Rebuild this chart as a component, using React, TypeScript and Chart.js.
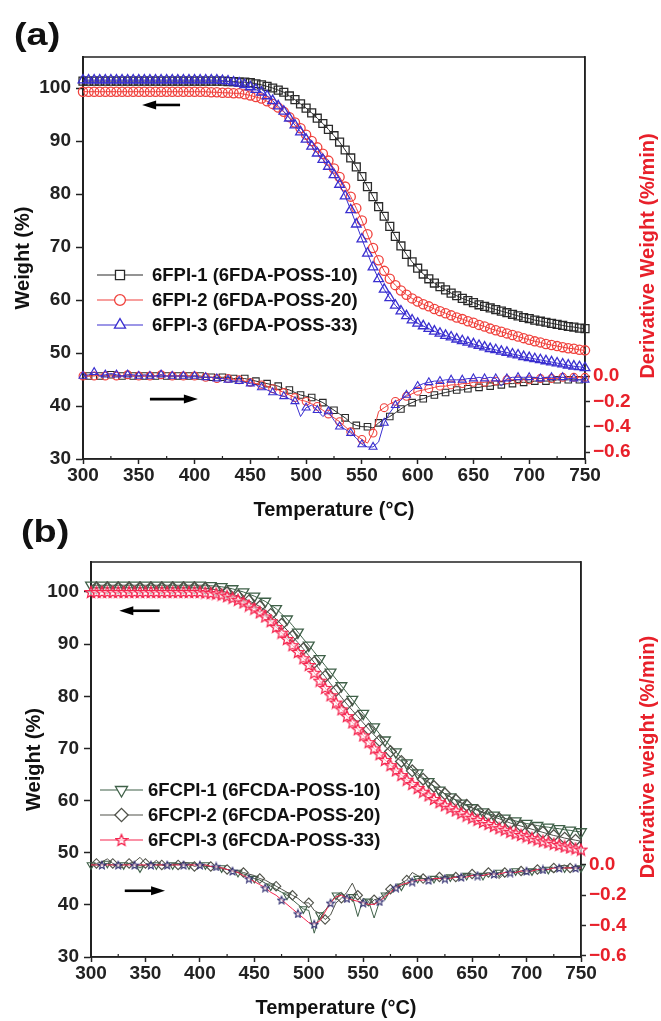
import React, { useEffect, useRef } from 'react';
import { Chart, registerables } from 'chart.js';
import { drawPoint } from 'chart.js/helpers';

Chart.register(...registerables);

// ---------------- data ----------------
const TEMPS = [
  300, 305, 310, 315, 320, 325, 330, 335, 340, 345,
  350, 355, 360, 365, 370, 375, 380, 385, 390, 395,
  400, 405, 410, 415, 420, 425, 430, 435, 440, 445,
  450, 455, 460, 465, 470, 475, 480, 485, 490, 495,
  500, 505, 510, 515, 520, 525, 530, 535, 540, 545,
  550, 555, 560, 565, 570, 575, 580, 585, 590, 595,
  600, 605, 610, 615, 620, 625, 630, 635, 640, 645,
  650, 655, 660, 665, 670, 675, 680, 685, 690, 695,
  700, 705, 710, 715, 720, 725, 730, 735, 740, 745,
  750,
];
const X_TICKS = [300, 350, 400, 450, 500, 550, 600, 650, 700, 750];
const X_MINOR = [325, 375, 425, 475, 525, 575, 625, 675, 725];
const W_TICKS = [30, 40, 50, 60, 70, 80, 90, 100];
const D_TICKS = [0, -0.2, -0.4, -0.6];

const A_LABELS = ['6FPI-1 (6FDA-POSS-10)', '6FPI-2 (6FDA-POSS-20)', '6FPI-3 (6FDA-POSS-33)'];
const B_LABELS = ['6FCPI-1 (6FCDA-POSS-10)', '6FCPI-2 (6FCDA-POSS-20)', '6FCPI-3 (6FCDA-POSS-33)'];

// Panel (a) weight (%)
const A1_W = [
  101.3, 101.3, 101.3, 101.3, 101.3, 101.3, 101.3, 101.3, 101.3, 101.3,
  101.3, 101.3, 101.3, 101.3, 101.3, 101.3, 101.3, 101.3, 101.3, 101.3,
  101.3, 101.3, 101.3, 101.3, 101.3, 101.3, 101.2, 101.2, 101.1, 101.1,
  101.0, 100.8, 100.6, 100.3, 100.0, 99.6, 99.2, 98.5, 97.8, 97.0,
  96.2, 95.3, 94.3, 93.3, 92.2, 91.0, 89.8, 88.3, 86.8, 85.1,
  83.3, 81.4, 79.5, 77.6, 75.8, 73.9, 72.0, 70.2, 68.6, 67.2,
  66.0, 64.9, 64.0, 63.2, 62.5, 61.9, 61.3, 60.8, 60.3, 59.9,
  59.5, 59.1, 58.8, 58.5, 58.2, 57.9, 57.6, 57.3, 57.0, 56.7,
  56.5, 56.2, 56.0, 55.8, 55.6, 55.4, 55.2, 55.0, 54.9, 54.7,
  54.6,
];
const A2_W = [
  99.3, 99.3, 99.3, 99.3, 99.3, 99.3, 99.3, 99.3, 99.3, 99.3,
  99.3, 99.3, 99.3, 99.3, 99.3, 99.3, 99.3, 99.3, 99.3, 99.3,
  99.3, 99.3, 99.3, 99.2, 99.2, 99.1, 99.1, 99.0, 99.0, 98.8,
  98.6, 98.3, 98.0, 97.5, 97.0, 96.3, 95.5, 94.5, 93.5, 92.4,
  91.2, 90.0, 88.8, 87.6, 86.3, 84.8, 83.2, 81.4, 79.5, 77.3,
  75.0, 72.4, 69.8, 67.5, 65.5, 64.0, 62.8, 61.8, 61.0, 60.3,
  59.7, 59.2, 58.8, 58.3, 57.9, 57.5, 57.1, 56.7, 56.4, 56.0,
  55.7, 55.3, 55.0, 54.6, 54.3, 54.0, 53.7, 53.4, 53.1, 52.8,
  52.5, 52.2, 52.0, 51.7, 51.5, 51.3, 51.1, 50.9, 50.8, 50.6,
  50.5,
];
const A3_W = [
  101.5, 101.5, 101.5, 101.5, 101.5, 101.5, 101.5, 101.5, 101.5, 101.5,
  101.5, 101.5, 101.5, 101.5, 101.5, 101.5, 101.5, 101.5, 101.5, 101.5,
  101.5, 101.5, 101.5, 101.5, 101.5, 101.4, 101.3, 101.1, 100.9, 100.6,
  100.2, 99.7, 99.2, 98.5, 97.6, 96.6, 95.6, 94.3, 93.0, 91.7,
  90.3, 89.0, 87.7, 86.5, 85.2, 83.6, 81.8, 79.6, 77.0, 74.3,
  71.5, 68.8, 66.2, 64.0, 62.0, 60.4, 59.0, 57.9, 57.0, 56.2,
  55.6, 55.1, 54.6, 54.1, 53.7, 53.3, 53.0, 52.6, 52.3, 52.0,
  51.7, 51.4, 51.1, 50.8, 50.6, 50.3, 50.1, 49.8, 49.6, 49.3,
  49.1, 48.9, 48.7, 48.5, 48.3, 48.1, 47.9, 47.7, 47.5, 47.4,
  47.2,
];
// Panel (a) derivative weight (%/min)
const A1_D = [
  0.00, 0.00, 0.01, 0.00, 0.00, 0.01, 0.00, 0.00, 0.00, 0.00,
  0.00, 0.00, 0.00, 0.00, 0.00, 0.00, 0.00, 0.00, 0.00, 0.00,
  0.00, 0.00, -0.01, -0.01, -0.01, -0.01, -0.01, -0.02, -0.02, -0.02,
  -0.03, -0.04, -0.05, -0.06, -0.07, -0.08, -0.10, -0.11, -0.13, -0.15,
  -0.16, -0.17, -0.19, -0.21, -0.24, -0.27, -0.30, -0.33, -0.37, -0.39,
  -0.40, -0.40, -0.41, -0.37, -0.34, -0.32, -0.29, -0.26, -0.23, -0.21,
  -0.19, -0.18, -0.16, -0.15, -0.14, -0.13, -0.12, -0.11, -0.11, -0.10,
  -0.09, -0.09, -0.08, -0.08, -0.07, -0.07, -0.06, -0.06, -0.05, -0.05,
  -0.05, -0.04, -0.04, -0.04, -0.04, -0.03, -0.03, -0.03, -0.03, -0.03,
  -0.03,
];
const A2_D = [
  0.00, 0.00, 0.00, 0.01, 0.00, 0.00, 0.00, 0.00, 0.01, 0.00,
  0.00, 0.00, 0.00, 0.00, 0.01, 0.00, 0.00, 0.00, 0.00, 0.00,
  0.00, -0.01, -0.01, -0.01, -0.02, -0.02, -0.02, -0.03, -0.03, -0.04,
  -0.05, -0.06, -0.07, -0.08, -0.10, -0.11, -0.13, -0.15, -0.17, -0.19,
  -0.20, -0.22, -0.24, -0.27, -0.30, -0.33, -0.36, -0.40, -0.44, -0.47,
  -0.50, -0.53, -0.45, -0.28, -0.25, -0.22, -0.20, -0.18, -0.16, -0.14,
  -0.12, -0.11, -0.10, -0.09, -0.08, -0.08, -0.07, -0.07, -0.06, -0.06,
  -0.05, -0.05, -0.05, -0.04, -0.04, -0.04, -0.03, -0.03, -0.03, -0.03,
  -0.03, -0.02, -0.02, -0.02, -0.02, -0.02, -0.01, -0.01, -0.01, -0.01,
  -0.01,
];
const A3_D = [
  0.00, 0.01, 0.03, 0.00, 0.01, 0.02, 0.01, 0.00, 0.01, 0.01,
  0.00, 0.01, 0.00, 0.00, 0.01, 0.00, 0.00, 0.00, 0.00, -0.01,
  0.00, -0.01, -0.01, -0.01, -0.02, -0.02, -0.03, -0.04, -0.04, -0.05,
  -0.06, -0.07, -0.09, -0.11, -0.13, -0.15, -0.16, -0.18, -0.20, -0.32,
  -0.25, -0.23, -0.27, -0.32, -0.28, -0.35, -0.40, -0.42, -0.45, -0.49,
  -0.54, -0.56, -0.56, -0.52, -0.37, -0.29, -0.23, -0.19, -0.15, -0.11,
  -0.08, -0.06, -0.05, -0.04, -0.04, -0.03, -0.03, -0.03, -0.03, -0.02,
  -0.02, -0.01, -0.02, -0.01, -0.02, -0.08, -0.02, -0.01, -0.01, -0.01,
  -0.01, -0.01, -0.02, -0.01, -0.01, -0.01, -0.01, -0.02, -0.02, -0.03,
  -0.03,
];

// Panel (b) weight (%)
const B1_W = [
  101.3, 101.3, 101.3, 101.3, 101.3, 101.3, 101.3, 101.3, 101.3, 101.3,
  101.3, 101.3, 101.3, 101.3, 101.3, 101.3, 101.3, 101.3, 101.3, 101.3,
  101.3, 101.3, 101.2, 101.1, 101.0, 100.8, 100.6, 100.3, 100.0, 99.6,
  99.2, 98.7, 98.2, 97.5, 96.8, 95.8, 94.8, 93.6, 92.3, 91.0,
  89.8, 88.5, 87.2, 85.9, 84.6, 83.3, 82.0, 80.7, 79.4, 78.0,
  76.7, 75.4, 74.1, 72.8, 71.6, 70.4, 69.3, 68.2, 67.2, 66.2,
  65.3, 64.4, 63.6, 62.8, 62.0, 61.3, 60.7, 60.1, 59.5, 59.0,
  58.6, 58.2, 57.8, 57.5, 57.2, 56.9, 56.6, 56.3, 56.1, 55.8,
  55.6, 55.4, 55.2, 55.0, 54.9, 54.7, 54.6, 54.4, 54.3, 54.1,
  54.0,
];
const B2_W = [
  100.8, 100.8, 100.8, 100.8, 100.8, 100.8, 100.8, 100.8, 100.8, 100.8,
  100.8, 100.8, 100.8, 100.8, 100.8, 100.8, 100.8, 100.8, 100.8, 100.8,
  100.8, 100.7, 100.6, 100.4, 100.2, 99.9, 99.6, 99.2, 98.8, 98.3,
  97.8, 97.2, 96.5, 95.7, 94.8, 93.8, 92.7, 91.5, 90.3, 89.1,
  87.8, 86.5, 85.1, 83.8, 82.4, 81.1, 79.8, 78.5, 77.3, 76.1,
  74.9, 73.7, 72.6, 71.5, 70.4, 69.4, 68.4, 67.5, 66.6, 65.7,
  64.9, 64.1, 63.4, 62.7, 62.0, 61.3, 60.7, 60.1, 59.6, 59.1,
  58.6, 58.1, 57.7, 57.3, 56.9, 56.5, 56.1, 55.7, 55.4, 55.1,
  54.8, 54.5, 54.2, 53.9, 53.6, 53.3, 53.1, 52.8, 52.6, 52.4,
  52.2,
];
const B3_W = [
  100.0, 100.0, 100.0, 100.0, 100.0, 100.0, 100.0, 100.0, 100.0, 100.0,
  100.0, 100.0, 100.0, 100.0, 100.0, 100.0, 100.0, 100.0, 100.0, 100.0,
  100.0, 99.9, 99.8, 99.7, 99.5, 99.2, 98.9, 98.5, 98.0, 97.4,
  96.8, 96.1, 95.3, 94.4, 93.3, 92.2, 91.0, 89.8, 88.5, 87.3,
  86.0, 84.5, 83.0, 81.6, 80.2, 78.8, 77.5, 76.2, 75.0, 73.7,
  72.5, 71.2, 70.0, 68.9, 67.8, 66.8, 65.8, 64.9, 64.0, 63.2,
  62.4, 61.7, 61.0, 60.3, 59.7, 59.1, 58.6, 58.1, 57.6, 57.1,
  56.7, 56.3, 55.9, 55.5, 55.1, 54.7, 54.4, 54.0, 53.7, 53.4,
  53.1, 52.8, 52.5, 52.2, 52.0, 51.7, 51.5, 51.2, 51.0, 50.8,
  50.6,
];
// Panel (b) derivative weight (%/min)
const B1_D = [
  0.00, 0.00, 0.00, 0.01, 0.00, -0.01, 0.00, 0.01, 0.00, -0.02,
  0.00, 0.01, 0.00, 0.00, -0.01, 0.00, 0.01, 0.00, 0.00, 0.01,
  -0.01, 0.00, -0.01, -0.02, -0.02, -0.03, -0.04, -0.05, -0.06, -0.07,
  -0.09, -0.10, -0.12, -0.14, -0.16, -0.18, -0.20, -0.23, -0.26, -0.29,
  -0.30, -0.45, -0.33, -0.30, -0.25, -0.20, -0.18, -0.22, -0.21, -0.34,
  -0.22, -0.24, -0.35, -0.24, -0.20, -0.17, -0.15, -0.14, -0.12, -0.10,
  -0.09, -0.09, -0.10, -0.09, -0.09, -0.08, -0.08, -0.08, -0.09, -0.07,
  -0.07, -0.06, -0.07, -0.06, -0.06, -0.05, -0.08, -0.05, -0.04, -0.05,
  -0.06, -0.04, -0.04, -0.03, -0.03, -0.05, -0.02, -0.02, -0.02, -0.02,
  -0.02,
];
const B2_D = [
  0.00, 0.01, 0.02, 0.04, 0.01, -0.01, -0.02, 0.01, 0.02, 0.05,
  0.01, 0.00, 0.03, 0.00, -0.01, 0.01, 0.00, 0.02, 0.01, -0.01,
  0.00, -0.01, -0.01, -0.02, -0.02, -0.03, -0.04, -0.04, -0.05, -0.06,
  -0.07, -0.09, -0.10, -0.12, -0.14, -0.16, -0.18, -0.20, -0.22, -0.25,
  -0.25, -0.30, -0.32, -0.36, -0.33, -0.25, -0.22, -0.18, -0.12, -0.20,
  -0.25, -0.27, -0.23, -0.22, -0.19, -0.16, -0.14, -0.12, -0.10, -0.05,
  -0.07, -0.09, -0.09, -0.10, -0.08, -0.08, -0.07, -0.08, -0.07, -0.06,
  -0.06, -0.07, -0.06, -0.05, -0.06, -0.09, -0.05, -0.04, -0.05, -0.04,
  -0.04, -0.03, -0.03, -0.04, -0.03, -0.02, -0.01, 0.00, -0.02, -0.01,
  -0.01,
];
const B3_D = [
  0.00, 0.00, 0.00, 0.00, 0.00, 0.00, 0.00, 0.00, 0.00, 0.00,
  0.00, 0.00, 0.00, 0.00, 0.00, 0.00, 0.00, 0.00, 0.00, 0.00,
  0.00, 0.00, -0.01, -0.01, -0.02, -0.03, -0.04, -0.05, -0.07, -0.09,
  -0.11, -0.13, -0.15, -0.18, -0.20, -0.23, -0.26, -0.29, -0.32, -0.35,
  -0.38, -0.39, -0.37, -0.31, -0.25, -0.21, -0.20, -0.22, -0.23, -0.24,
  -0.25, -0.26, -0.26, -0.24, -0.21, -0.18, -0.15, -0.13, -0.12, -0.11,
  -0.10, -0.10, -0.10, -0.09, -0.09, -0.09, -0.09, -0.08, -0.08, -0.08,
  -0.07, -0.07, -0.07, -0.06, -0.06, -0.06, -0.05, -0.05, -0.05, -0.04,
  -0.04, -0.04, -0.03, -0.03, -0.03, -0.02, -0.02, -0.02, -0.02, -0.02,
  -0.02,
];

// ---------------- styling ----------------
const FONT = '"Liberation Sans", Arial, Helvetica, sans-serif';
const AXIS = '#222222';
const RED_TXT = '#e8202a';

function starImage(size: number, color: string, lw: number) {
  const c = document.createElement('canvas');
  c.width = size;
  c.height = size;
  const g = c.getContext('2d')!;
  const cx = size / 2;
  const cy = size / 2 + 0.5;
  const R = size / 2 - 1;
  const r = R * 0.45;
  g.beginPath();
  for (let k = 0; k < 10; k++) {
    const ang = -Math.PI / 2 + (k * Math.PI) / 5;
    const rr = k % 2 ? r : R;
    g.lineTo(cx + rr * Math.cos(ang), cy + rr * Math.sin(ang));
  }
  g.closePath();
  g.fillStyle = 'rgba(255,255,255,0.6)';
  g.fill();
  g.strokeStyle = color;
  g.lineWidth = lw;
  g.stroke();
  return c;
}

type SeriesDef = {
  label: string;
  w: number[];
  d: number[];
  line: string;
  mark: string;
  dLine: string;
  dMark: string;
  style: any;
  dStyle: any;
  rot: number;
  r: number;
  dr: number;
  wStep: number;
  wOff: number;
  dStep: number;
  dOff: number;
};

type PanelDef = {
  canvasH: number;
  padTop: number;
  yW: number;
  y2W: number;
  xH: number;
  yMax: number;
  dMin: number;
  dMax: number;
  yTitlePad: number;
  xTitlePad: number;
  tag: string;
  tagX: number;
  tagY: number;
  rightTitle: string;
  rtX: number;
  rtY: number;
  legendRows: number[];
  legendLine: number[];
  legendTextX: number;
  arrows: { from: number; to: number; w: number }[];
  series: SeriesDef[];
};

function drawArrow(ctx: CanvasRenderingContext2D, xTail: number, xHead: number, y: number) {
  const dir = Math.sign(xHead - xTail);
  const headLen = 14;
  const headHalf = 4.5;
  ctx.beginPath();
  ctx.moveTo(xTail, y);
  ctx.lineTo(xHead - dir * headLen + dir, y);
  ctx.lineWidth = 2.6;
  ctx.stroke();
  ctx.beginPath();
  ctx.moveTo(xHead, y);
  ctx.lineTo(xHead - dir * headLen, y - headHalf);
  ctx.lineTo(xHead - dir * headLen, y + headHalf);
  ctx.closePath();
  ctx.fill();
}

function makeDeco(p: PanelDef) {
  return {
    id: 'deco',
    beforeDatasetsDraw(chart: any) {
      const { ctx, chartArea: a } = chart;
      ctx.save();
      ctx.strokeStyle = AXIS;
      ctx.lineWidth = 1.5;
      ctx.strokeRect(a.left, a.top, a.right - a.left, a.bottom - a.top);
      // minor x ticks
      const sx = chart.scales.x;
      ctx.lineWidth = 1.2;
      X_MINOR.forEach((v) => {
        const px = sx.getPixelForValue(v);
        ctx.beginPath();
        ctx.moveTo(px, a.bottom);
        ctx.lineTo(px, a.bottom - 3);
        ctx.stroke();
      });
      ctx.restore();
    },
    afterDraw(chart: any) {
      const { ctx, scales } = chart;
      ctx.save();
      // panel tag (wide bold lettering)
      ctx.save();
      ctx.translate(p.tagX, p.tagY);
      ctx.scale(1.22, 1);
      ctx.font = `bold 31px ${FONT}`;
      ctx.fillStyle = '#111';
      ctx.textBaseline = 'middle';
      ctx.textAlign = 'left';
      ctx.fillText(p.tag, 0, 0);
      ctx.restore();
      // arrows
      ctx.strokeStyle = '#000';
      ctx.fillStyle = '#000';
      p.arrows.forEach((ar) => {
        const x0 = scales.x.getPixelForValue(ar.from);
        const x1 = scales.x.getPixelForValue(ar.to);
        const y = scales.y.getPixelForValue(ar.w);
        drawArrow(ctx, x0, x1, y);
      });
      // legend
      p.series.forEach((s, i) => {
        const y = p.legendRows[i];
        const [l0, l1] = p.legendLine;
        ctx.strokeStyle = s.line;
        ctx.lineWidth = 1.2;
        ctx.beginPath();
        ctx.moveTo(l0, y);
        ctx.lineTo(l1, y);
        ctx.stroke();
        ctx.fillStyle = '#ffffff';
        ctx.strokeStyle = s.mark;
        ctx.lineWidth = 1.3;
        drawPoint(ctx, { pointStyle: s.style, rotation: s.rot, radius: s.r + 0.8, borderWidth: 1.3 } as any, (l0 + l1) / 2, y);
        ctx.fillStyle = '#111';
        ctx.font = `bold 18.5px ${FONT}`;
        ctx.textBaseline = 'middle';
        ctx.textAlign = 'left';
        ctx.fillText(s.label, p.legendTextX, y + 1);
      });
      // right axis title
      ctx.translate(p.rtX, p.rtY);
      ctx.rotate(-Math.PI / 2);
      ctx.fillStyle = RED_TXT;
      ctx.font = `bold 20px ${FONT}`;
      ctx.textAlign = 'center';
      ctx.textBaseline = 'middle';
      ctx.fillText(p.rightTitle, 0, 0);
      ctx.restore();
    },
  };
}

function buildConfig(p: PanelDef): any {
  const datasets: any[] = [];
  [...p.series].reverse().forEach((s) => {
    datasets.push({
      label: s.label,
      yAxisID: 'y',
      data: TEMPS.map((t, i) => ({ x: t, y: s.w[i] })),
      borderColor: s.line,
      borderWidth: 1,
      pointStyle: s.style,
      rotation: s.rot,
      pointRadius: (c: any) => (c.dataIndex % s.wStep === s.wOff ? s.r : 0),
      pointBorderColor: s.mark,
      pointBackgroundColor: 'rgba(255,255,255,0)',
      pointBorderWidth: 1.3,
      tension: 0,
      clip: false,
    });
    datasets.push({
      label: s.label + ' DTG',
      yAxisID: 'y2',
      data: TEMPS.map((t, i) => ({ x: t, y: s.d[i] })),
      borderColor: s.dLine,
      borderWidth: 1,
      pointStyle: s.dStyle,
      rotation: s.rot,
      pointRadius: (c: any) => (c.dataIndex % s.dStep === s.dOff ? s.dr : 0),
      pointBorderColor: s.dMark,
      pointBackgroundColor: 'rgba(255,255,255,0)',
      pointBorderWidth: 1.1,
      tension: 0,
      clip: false,
    });
  });

  const tickFont = { family: FONT, size: 19, weight: 'bold' as const };
  const titleFont = { family: FONT, size: 20, weight: 'bold' as const };

  return {
    type: 'line',
    data: { datasets },
    plugins: [makeDeco(p)],
    options: {
      animation: false,
      responsive: false,
      events: [],
      layout: { padding: { top: p.padTop, left: 0, right: 0, bottom: 0 }, autoPadding: false },
      plugins: { legend: { display: false }, tooltip: { enabled: false } },
      scales: {
        x: {
          type: 'linear',
          min: 300,
          max: 750,
          afterBuildTicks: (sc: any) => {
            sc.ticks = X_TICKS.map((v) => ({ value: v }));
          },
          afterFit: (sc: any) => {
            sc.height = p.xH;
          },
          grid: { drawOnChartArea: false, tickLength: 5, color: AXIS, tickWidth: 1.5 },
          border: { color: AXIS, width: 1.5 },
          ticks: { font: tickFont, color: '#222', padding: 0, maxRotation: 0, autoSkip: false },
          title: {
            display: true,
            text: 'Temperature (°C)',
            font: titleFont,
            color: '#111',
            padding: { top: 0, bottom: p.xTitlePad },
          },
        },
        y: {
          position: 'left',
          min: 30,
          max: p.yMax,
          afterBuildTicks: (sc: any) => {
            sc.ticks = W_TICKS.map((v) => ({ value: v }));
          },
          afterFit: (sc: any) => {
            sc.width = p.yW;
          },
          grid: { drawOnChartArea: false, tickLength: 7, color: AXIS, tickWidth: 1.5 },
          border: { color: AXIS, width: 2 },
          ticks: { font: tickFont, color: '#222', padding: 5 },
          title: {
            display: true,
            text: 'Weight (%)',
            font: titleFont,
            color: '#111',
            padding: { top: p.yTitlePad, bottom: 0 },
          },
        },
        y2: {
          position: 'right',
          min: p.dMin,
          max: p.dMax,
          afterBuildTicks: (sc: any) => {
            sc.ticks = D_TICKS.map((v) => ({ value: v }));
          },
          afterFit: (sc: any) => {
            sc.width = p.y2W;
          },
          grid: { drawOnChartArea: false, tickLength: 5, color: AXIS, tickWidth: 1.5 },
          border: { color: AXIS, width: 1.5 },
          ticks: {
            font: tickFont,
            color: RED_TXT,
            padding: 3,
            callback: (v: any) => (Math.abs(v) < 1e-9 ? '0.0' : '\u2212' + Math.abs(v).toFixed(1)),
          },
        },
      },
    },
  };
}

// ---------------- panels ----------------
const STAR_BIG = starImage(14, '#f5254f', 1.3);
const STAR_SMALL = starImage(10, '#2d2a6e', 1.1);

const PANEL_A: PanelDef = {
  canvasH: 522,
  padTop: 57,
  yW: 83,
  y2W: 76,
  xH: 63,
  yMax: 105.85,
  dMin: -0.655,
  dMax: 2.518,
  yTitlePad: 11,
  xTitlePad: 0,
  tag: '(a)',
  tagX: 14,
  tagY: 36,
  rightTitle: 'Derivative Weight (%/min)',
  rtX: 648,
  rtY: 256,
  legendRows: [275, 300, 325],
  legendLine: [97, 143],
  legendTextX: 152,
  arrows: [
    { from: 387, to: 353, w: 96.8 },
    { from: 360, to: 403, w: 41.3 },
  ],
  series: [
    {
      label: A_LABELS[0], w: A1_W, d: A1_D, line: '#2a2a2a', mark: '#2a2a2a', dLine: '#2a2a2a', dMark: '#2a2a2a',
      style: 'rect', dStyle: 'rect', rot: 0, r: 5.6, dr: 4.6, wStep: 1, wOff: 0, dStep: 2, dOff: 1,
    },
    {
      label: A_LABELS[1], w: A2_W, d: A2_D, line: '#f0413c', mark: '#f0413c', dLine: '#f0413c', dMark: '#f0413c',
      style: 'circle', dStyle: 'circle', rot: 0, r: 4.6, dr: 3.9, wStep: 1, wOff: 0, dStep: 2, dOff: 0,
    },
    {
      label: A_LABELS[2], w: A3_W, d: A3_D, line: '#3a2fd0', mark: '#3a2fd0', dLine: '#3a2fd0', dMark: '#3a2fd0',
      style: 'triangle', dStyle: 'triangle', rot: 0, r: 5.6, dr: 4.6, wStep: 1, wOff: 0, dStep: 2, dOff: 0,
    },
  ],
};

const PANEL_B: PanelDef = {
  canvasH: 521,
  padTop: 62,
  yW: 91,
  y2W: 80,
  xH: 64,
  yMax: 105.75,
  dMin: -0.607,
  dMax: 1.997,
  yTitlePad: 22,
  xTitlePad: 1,
  tag: '(b)',
  tagX: 21,
  tagY: 33,
  rightTitle: 'Derivative weight (%/min)',
  rtX: 648,
  rtY: 257,
  legendRows: [290, 315, 340],
  legendLine: [100, 143],
  legendTextX: 148,
  arrows: [
    { from: 363, to: 326, w: 96.4 },
    { from: 331, to: 368, w: 42.7 },
  ],
  series: [
    {
      label: B_LABELS[0], w: B1_W, d: B1_D, line: '#3f6048', mark: '#3f6048', dLine: '#3f6048', dMark: '#3f6048',
      style: 'triangle', dStyle: 'triangle', rot: 180, r: 6.2, dr: 4.4, wStep: 2, wOff: 0, dStep: 3, dOff: 0,
    },
    {
      label: B_LABELS[1], w: B2_W, d: B2_D, line: '#50524a', mark: '#50524a', dLine: '#50524a', dMark: '#50524a',
      style: 'rectRot', dStyle: 'rectRot', rot: 0, r: 5.8, dr: 4.7, wStep: 2, wOff: 1, dStep: 3, dOff: 1,
    },
    {
      label: B_LABELS[2], w: B3_W, d: B3_D, line: '#f5254f', mark: '#f5254f', dLine: '#f5254f', dMark: '#2d2a6e',
      style: STAR_BIG, dStyle: STAR_SMALL, rot: 0, r: 6, dr: 4, wStep: 1, wOff: 0, dStep: 3, dOff: 2,
    },
  ],
};

function Panel({ def, top }: { def: PanelDef; top: number }) {
  const ref = useRef<HTMLCanvasElement>(null);
  useEffect(() => {
    const chart = new Chart(ref.current as HTMLCanvasElement, buildConfig(def));
    return () => chart.destroy();
  }, [def]);
  return (
    <div style={{ position: 'absolute', left: 0, top, width: 661, height: def.canvasH }}>
      <canvas ref={ref} width={661} height={def.canvasH} style={{ width: 661, height: def.canvasH, display: 'block' }} />
    </div>
  );
}

export default function App() {
  return (
    <div style={{ position: 'absolute', left: 0, top: 0, width: 661, height: 1021, background: '#ffffff', overflow: 'hidden' }}>
      <Panel def={PANEL_A} top={0} />
      <Panel def={PANEL_B} top={500} />
    </div>
  );
}
